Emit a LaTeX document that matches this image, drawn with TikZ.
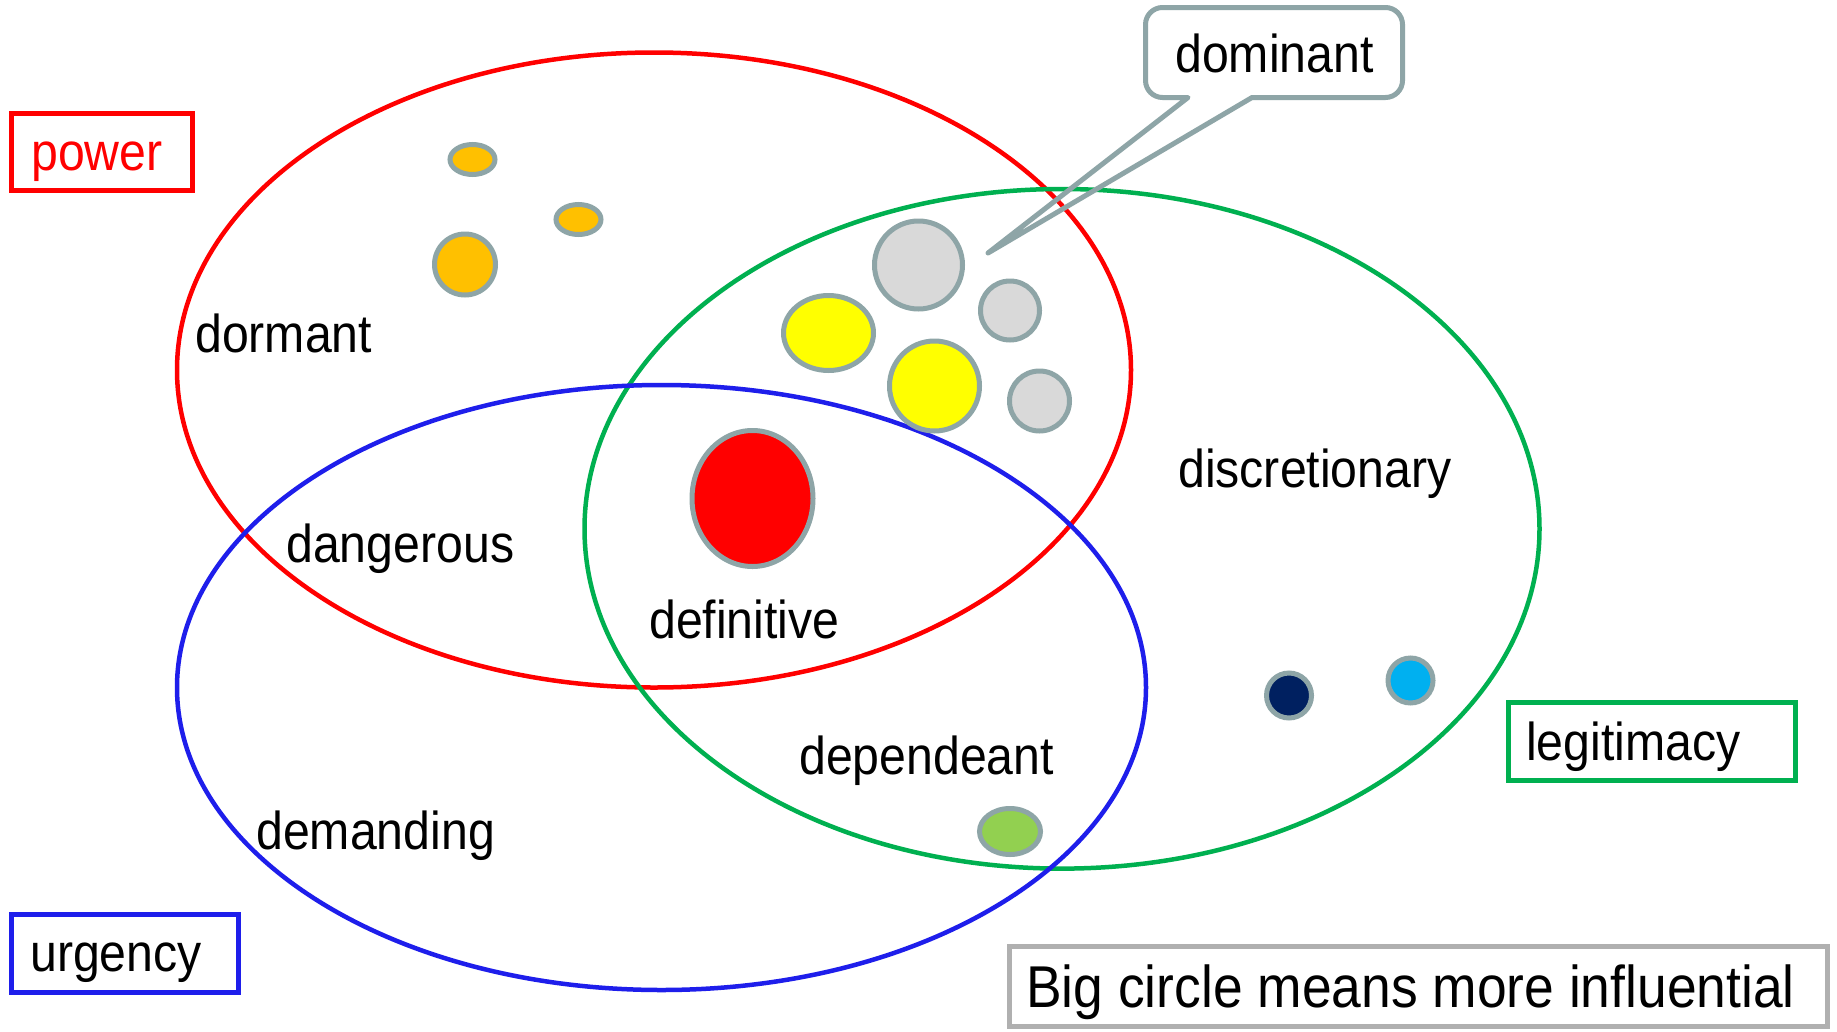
\documentclass[tikz,border=0pt]{standalone}
\usepackage{fontspec}
\setmainfont{Liberation Sans}[FakeStretch=0.905]
\definecolor{cRed}{HTML}{FF0000}
\definecolor{cGreen}{HTML}{00B050}
\definecolor{cBlue}{RGB}{30,30,235}
\definecolor{cEdge}{RGB}{142,165,167}
\definecolor{cLight}{HTML}{D9D9D9}
\definecolor{cOrange}{HTML}{FFC000}
\definecolor{cYellow}{HTML}{FFFF00}
\definecolor{cNavy}{HTML}{002060}
\definecolor{cSky}{HTML}{00B0F0}
\definecolor{cLime}{HTML}{92D050}
\definecolor{cBoxGrey}{HTML}{B0B0B0}
\newcommand\myLbl{\fontsize{53.3}{60}\selectfont}
\newcommand\myBig{\fontsize{59}{68}\selectfont}
\begin{document}
\begin{tikzpicture}[x=1pt,y=1pt,
  setring/.style={line width=4.5pt},
  blob/.style={draw=cEdge,line width=5pt},
  keybox/.style={draw=#1,line width=5pt,rectangle,inner sep=0pt},
  lbl/.style={inner sep=0pt,anchor=base west,font=\myLbl},
  callout/.style={draw=cEdge,line width=5pt,line join=round,line cap=round}]
\useasboundingbox[fill=white] (0,0) rectangle (1837,-1031);
% set ellipses
\draw[setring,cRed] (654,-370) ellipse [x radius=477,y radius=317.5];
\draw[setring,cGreen] (1062,-528.8) ellipse [x radius=477.5,y radius=339.8];
\draw[setring,cBlue] (661.5,-687.5) ellipse [x radius=484.5,y radius=302.5];
% stakeholders
\draw[blob,fill=cOrange] (472.5,-159.5) ellipse [x radius=22.5,y radius=15];
\draw[blob,fill=cOrange] (578.5,-219.5) ellipse [x radius=22.5,y radius=15];
\draw[blob,fill=cOrange] (465,-264.5) circle [radius=30.5];
\draw[blob,fill=cLight] (918.5,-265) circle [radius=44];
\draw[blob,fill=cLight] (1010,-310.5) circle [radius=29.5];
\draw[blob,fill=cLight] (1039.5,-401) circle [radius=30];
\draw[blob,fill=cYellow] (828.5,-333) ellipse [x radius=45,y radius=37.5];
\draw[blob,fill=cYellow] (934.5,-386) circle [radius=45];
\draw[blob,fill=cRed] (752.5,-498.5) ellipse [x radius=60.5,y radius=68];
\draw[blob,fill=cNavy] (1289,-695.5) circle [radius=22.5];
\draw[blob,fill=cSky] (1410.5,-680.5) circle [radius=22.5];
\draw[blob,fill=cLime] (1010,-831.5) ellipse [x radius=30.5,y radius=23];
% callout
\coordinate (tip) at (988,-253);
\draw[callout] (1188,-97.5) -- (tip) -- (1252,-97.5) -- (1385.5,-97.5)
  arc[start angle=270,end angle=360,radius=17] -- (1402.5,-24.5)
  arc[start angle=0,end angle=90,radius=17] -- (1162.5,-7.5)
  arc[start angle=90,end angle=180,radius=17] -- (1145.5,-80.5)
  arc[start angle=180,end angle=270,radius=17] -- cycle;
\node[lbl] (dominant) at (1175,-72) {dominant};
% key boxes
\node[keybox=cRed,minimum width=181,minimum height=77.5] (powerbox) at (102,-152) {};
\node[lbl,text=cRed] (power) at (31,-170.7) {power};
\node[keybox=cBlue,minimum width=226.8,minimum height=77.7] (urgbox) at (124.9,-953.65) {};
\node[lbl] (urgency) at (30,-971) {urgency};
\node[keybox=cGreen,minimum width=287,minimum height=78] (legbox) at (1652.3,-741.8) {};
\node[lbl] (legitimacy) at (1526,-760) {legitimacy};
\node[keybox=cBoxGrey,minimum width=818,minimum height=80] (notebox) at (1418,-986.5) {};
\node[inner sep=0pt,anchor=base west,font=\myBig] (note) at (1026,-1007.5) {Big circle means more influential};
% region labels
\node[lbl] (dormant) at (195,-352.6) {dormant};
\node[lbl] (dangerous) at (286,-562) {dangerous};
\node[lbl] (definitive) at (649,-638.5) {definitive};
\node[lbl] (discretionary) at (1178,-487) {discretionary};
\node[lbl] (dependeant) at (799,-774) {dependeant};
\node[lbl] (demanding) at (256,-849) {demanding};
\end{tikzpicture}
\end{document}
